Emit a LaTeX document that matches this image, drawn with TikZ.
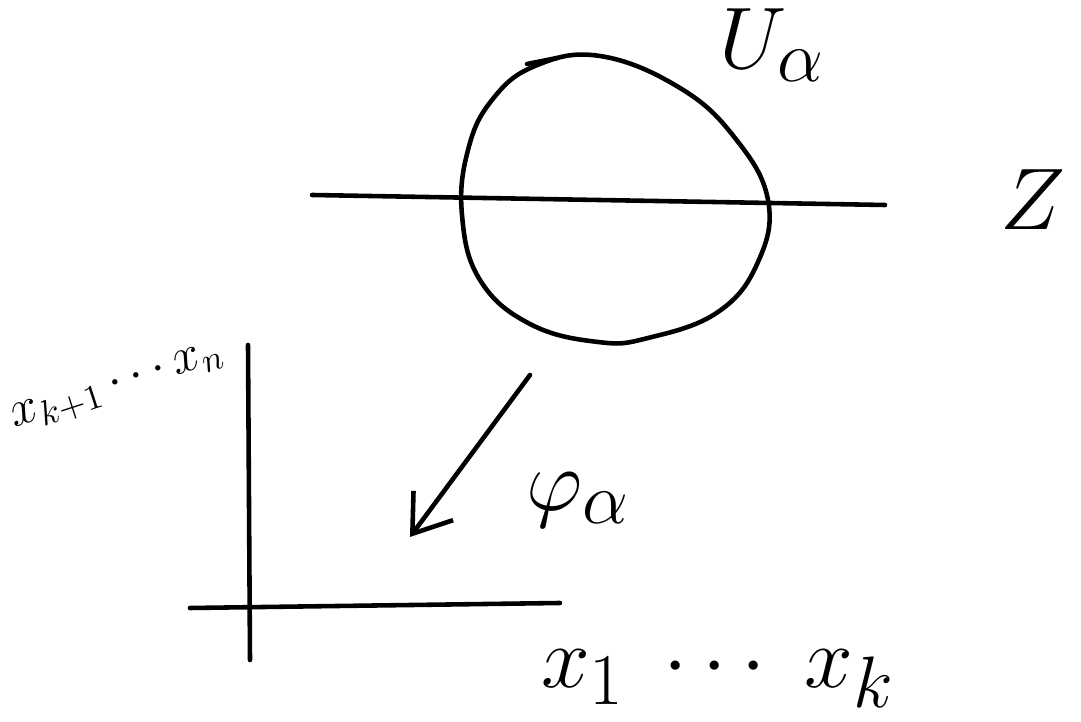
\documentclass[tikz,border=0pt]{standalone}
\usepackage{amsmath}
\usetikzlibrary{arrows.meta,calc}

\begin{document}
\begin{tikzpicture}[x=0.01cm,y=-0.01cm,
    pen/.style={line width=1.3pt,line cap=round,line join=round,black},
    arr/.style={pen,-{Straight Barb[length=10pt,width=14pt,line width=1.3pt]}},
    lbl/.style={font=\Huge,inner sep=0pt}]
    \useasboundingbox (0,0) rectangle (1081,722);
    % the set U_alpha in Z
    \coordinate (zl) at (312,195);
    \coordinate (zr) at (885,205);
    \draw[pen] (zl)--(zr);
    \draw[pen] plot[smooth cycle,tension=0.7] coordinates {
      (600,56) (680,88) (735,138) (768,200) (758,262) (718,312)
      (648,338) (598,342) (530,324) (480,280) (462,215) (468,150)
      (492,100) (535,66)};
    \draw[pen] (527,64)--(557,58);
    \node[lbl] (u) at (772,45) {$U_\alpha$};
    \node[lbl,font=\fontsize{40}{44}\selectfont] (z) at (1033,200) {$Z$};
    % chart
    \coordinate (vt) at (248,345);
    \coordinate (vb) at (250,660);
    \coordinate (hl) at (190,608);
    \coordinate (hr) at (560,603);
    \draw[pen] (vt)--(vb);
    \draw[pen] (hl)--(hr);
    \coordinate (a1) at (530,375);
    \coordinate (a2) at (410,537);
    \draw[arr] (a1)--(a2);
    \node[lbl] (phi) at (578,500) {$\varphi_\alpha$};
    \node[lbl,font=\Large,rotate=18] (xn) at (118,388) {$x_{k+1}\cdots x_n$};
    \node[lbl] (xk) at (718,678) {$x_1\;\cdots\;x_k$};
  \end{tikzpicture}
\end{document}
